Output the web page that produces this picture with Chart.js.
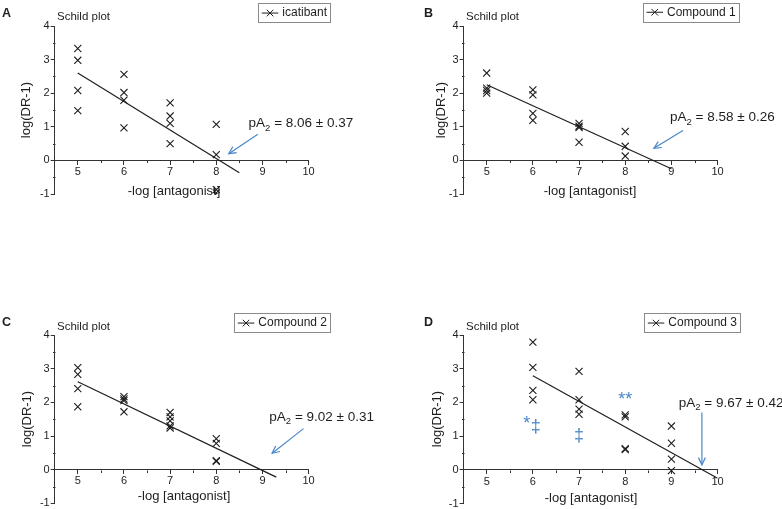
<!DOCTYPE html>
<html><head><meta charset="utf-8">
<script src="https://cdn.jsdelivr.net/npm/chart.js@4.4.1/dist/chart.umd.min.js"></script>
<style>
html,body{margin:0;padding:0;background:#fff;}
body{width:782px;height:509px;position:relative;overflow:hidden;}
canvas{position:absolute;}
</style>
</head><body>
<canvas id="cA" width="391" height="250" style="left:0;top:0"></canvas>
<canvas id="cB" width="391" height="250" style="left:391px;top:0"></canvas>
<canvas id="cC" width="391" height="270" style="left:0;top:250px"></canvas>
<canvas id="cD" width="391" height="270" style="left:391px;top:250px"></canvas>
<script>
// ---------- DATA ----------
const xTicks = [5, 6, 7, 8, 9, 10];
const yTicks = [-1, 0, 1, 2, 3, 4];

const namesAll = ['icatibant', 'Compound 1', 'Compound 2', 'Compound 3'];
const pA2Text = ['8.06 \u00b1 0.37', '8.58 \u00b1 0.26', '9.02 \u00b1 0.31', '9.67 \u00b1 0.42'];

const xA = [5,5,5,5, 6,6,6,6, 7,7,7,7, 8,8,8,8];
const yA = [3.33,2.98,2.08,1.48, 2.56,2.02,1.79,0.97, 1.71,1.32,1.1,0.5, 1.07,0.17,-0.87,-0.97];
const fitAx = [5, 8.5];
const fitAy = [2.6, -0.37];

const xB = [5,5,5,5, 6,6,6,6, 7,7,7,7, 8,8,8];
const yB = [2.6,2.15,2.08,2.0, 2.1,1.95,1.4,1.19, 1.1,1.02,0.98,0.54, 0.86,0.42,0.13];
const fitBx = [5, 9];
const fitBy = [2.25, -0.25];

const xC = [5,5,5,5, 6,6,6,6, 7,7,7,7,7, 8,8,8,8];
const yC = [3.03,2.83,2.41,1.87, 2.17,2.1,2.05,1.72, 1.7,1.57,1.45,1.3,1.24, 0.92,0.78,0.27,0.25];
const fitCx = [5, 9.3];
const fitCy = [2.61, -0.22];

const xD = [6,6,6,6, 7,7,7,7, 8,8,8,8, 9,9,9,9];
const yD = [3.79,3.04,2.36,2.08, 2.92,2.08,1.8,1.65, 1.63,1.57,0.63,0.6, 1.3,0.79,0.32,-0.02];
const fitDx = [6, 10];
const fitDy = [2.79, -0.25];

// pA2 label anchor (data coords) and arrow start/tip (data coords)
const labelA = [8.70, 1.10]; const arrowA = [8.90, 0.78, 8.27, 0.20];
const labelB = [8.97, 1.28]; const arrowB = [9.25, 0.89, 8.62, 0.36];
const labelC = [9.15, 1.57]; const arrowC = [9.89, 1.22, 9.21, 0.49];
const labelD = [9.16, 1.98]; const arrowD = [9.66, 1.70, 9.66, 0.15];

// significance marks in panel D (data coords)
const markText = ['*', '\u2021', '\u2021', '**'];
const markX = [5.87, 6.06, 7.0, 8.0];
const markY = [1.49, 1.26, 0.99, 2.2];

// ---------- STYLE / LAYOUT ----------
const FONT = "'Liberation Sans', Arial, Helvetica, sans-serif";
const INK = '#1e1e1e';
const BLUE = '#4a86c8';

const panels = [
  {id:'cA', letter:'A', name:namesAll[0], xs:xA, ys:yA, fx:fitAx, fy:fitAy, pa:pA2Text[0], lab:labelA, arr:arrowA,
   area:{l:54.7, r:308.6, t:26, b:194}, canvasH:250, letterPos:[2,14], schild:[57,16.7], yTitle:[26,110], xTitle:[174,191.7], legend:[258.3,3.3]},
  {id:'cB', letter:'B', name:namesAll[1], xs:xB, ys:yB, fx:fitBx, fy:fitBy, pa:pA2Text[1], lab:labelB, arr:arrowB,
   area:{l:72.6, r:326.6, t:26, b:194}, canvasH:250, letterPos:[33,14], schild:[75,16.7], yTitle:[50,110], xTitle:[199,191.7], legend:[252,2.5]},
  {id:'cC', letter:'C', name:namesAll[2], xs:xC, ys:yC, fx:fitCx, fy:fitCy, pa:pA2Text[2], lab:labelC, arr:arrowC,
   area:{l:54.7, r:308.6, t:85, b:253.4}, canvasH:270, letterPos:[2,72.5], schild:[57,76.5], yTitle:[27,169], xTitle:[184,246.7], legend:[234.3,63.3]},
  {id:'cD', letter:'D', name:namesAll[3], xs:xD, ys:yD, fx:fitDx, fy:fitDy, pa:pA2Text[3], lab:labelD, arr:arrowD,
   area:{l:72.6, r:326.6, t:85, b:253.6}, canvasH:270, letterPos:[33,72.5], schild:[75,76.5], yTitle:[46,169], xTitle:[200,248], legend:[253.3,63.3],
   marks:true}
];

const isInt = v => Math.abs(v - Math.round(v)) < 1e-6;

function drawArrow(ctx, x1, y1, x2, y2) {
  ctx.save();
  ctx.strokeStyle = BLUE; ctx.lineWidth = 1.2;
  ctx.beginPath(); ctx.moveTo(x1, y1); ctx.lineTo(x2, y2); ctx.stroke();
  const ang = Math.atan2(y2 - y1, x2 - x1);
  const L = 8, a = 0.45;
  ctx.beginPath();
  ctx.moveTo(x2 - L * Math.cos(ang - a), y2 - L * Math.sin(ang - a));
  ctx.lineTo(x2, y2);
  ctx.lineTo(x2 - L * Math.cos(ang + a), y2 - L * Math.sin(ang + a));
  ctx.stroke();
  ctx.restore();
}

function makePlugin(p) {
  return {
    id: 'decor' + p.letter,
    afterDraw(chart) {
      const ctx = chart.ctx, xs = chart.scales.x, ys = chart.scales.y;
      const ca = chart.chartArea;
      ctx.save();
      // minor ticks
      ctx.strokeStyle = '#333'; ctx.lineWidth = 1;
      const y0 = Math.round(ys.getPixelForValue(0)) + 0.5;
      for (let v = 5.5; v < 10; v += 1) {
        const px = Math.round(xs.getPixelForValue(v)) + 0.5;
        ctx.beginPath(); ctx.moveTo(px, y0); ctx.lineTo(px, y0 + 2.5); ctx.stroke();
      }
      const xl = Math.round(ca.left) + 0.5;
      for (let v = -0.5; v < 4; v += 1) {
        const py = Math.round(ys.getPixelForValue(v)) + 0.5;
        ctx.beginPath(); ctx.moveTo(xl, py); ctx.lineTo(xl - 2.5, py); ctx.stroke();
      }
      ctx.fillStyle = INK;
      // panel letter
      ctx.font = 'bold 12.5px ' + FONT; ctx.textBaseline = 'middle'; ctx.textAlign = 'left';
      ctx.fillText(p.letter, p.letterPos[0], p.letterPos[1]);
      // Schild plot
      ctx.font = '11.5px ' + FONT;
      ctx.fillText('Schild plot', p.schild[0], p.schild[1]);
      // axis titles
      ctx.font = '13px ' + FONT; ctx.textAlign = 'center';
      ctx.fillText('-log [antagonist]', p.xTitle[0], p.xTitle[1]);
      ctx.save();
      ctx.translate(p.yTitle[0], p.yTitle[1]); ctx.rotate(-Math.PI / 2);
      ctx.fillText('log(DR-1)', 0, 0);
      ctx.restore();
      // legend
      ctx.font = '12px ' + FONT; ctx.textAlign = 'left';
      const tw = ctx.measureText(p.name).width;
      const lx = p.legend[0], ly = p.legend[1], lh = 18.5;
      const lw = 3.5 + 16.5 + 4 + tw + 3.5;
      ctx.strokeStyle = '#8a8a8a'; ctx.lineWidth = 1;
      ctx.strokeRect(Math.round(lx) + 0.5, Math.round(ly) + 0.5, Math.round(lw), Math.round(lh));
      const sy = ly + lh / 2 + 0.5;
      ctx.strokeStyle = INK;
      ctx.beginPath(); ctx.moveTo(lx + 3.5, sy); ctx.lineTo(lx + 20, sy); ctx.stroke();
      const cx = lx + 11.75, r = 3.3;
      ctx.beginPath();
      ctx.moveTo(cx - r, sy - r); ctx.lineTo(cx + r, sy + r);
      ctx.moveTo(cx + r, sy - r); ctx.lineTo(cx - r, sy + r); ctx.stroke();
      ctx.fillStyle = INK;
      ctx.fillText(p.name, lx + 24, sy);
      // pA2 label
      let tx = xs.getPixelForValue(p.lab[0]);
      const ty = ys.getPixelForValue(p.lab[1]);
      ctx.font = '13.5px ' + FONT;
      ctx.fillText('pA', tx, ty); tx += ctx.measureText('pA').width;
      ctx.font = '9.5px ' + FONT;
      ctx.fillText('2', tx, ty + 4.5); tx += ctx.measureText('2').width;
      ctx.font = '13.5px ' + FONT;
      ctx.fillText(' = ' + p.pa, tx, ty);
      // arrow
      drawArrow(ctx, xs.getPixelForValue(p.arr[0]), ys.getPixelForValue(p.arr[1]),
                     xs.getPixelForValue(p.arr[2]), ys.getPixelForValue(p.arr[3]));
      // significance marks
      if (p.marks) {
        ctx.fillStyle = BLUE; ctx.textAlign = 'center'; ctx.textBaseline = 'middle';
        for (let i = 0; i < markText.length; i++) {
          const isStar = markText[i].indexOf('*') >= 0;
          ctx.font = (isStar ? '18px ' : '18px ') + FONT;
          ctx.fillText(markText[i], xs.getPixelForValue(markX[i]), ys.getPixelForValue(markY[i]) + (isStar ? 4 : 0));
        }
      }
      ctx.restore();
    }
  };
}

panels.forEach(p => {
  const pts = p.xs.map((x, i) => ({x: x, y: p.ys[i]}));
  const fit = p.fx.map((x, i) => ({x: x, y: p.fy[i]}));
  const W = 391;
  new Chart(document.getElementById(p.id), {
    type: 'scatter',
    data: {
      datasets: [
        {label: p.name, data: pts, pointStyle: 'crossRot', pointRadius: 5, pointBorderWidth: 1.1,
         borderColor: INK, backgroundColor: INK, showLine: false},
        {label: 'fit', data: fit, showLine: true, pointRadius: 0, borderColor: INK, borderWidth: 1.2, fill: false}
      ]
    },
    options: {
      responsive: false, animation: false, events: [],
      layout: {padding: {left: 0, top: p.area.t, right: W - p.area.r, bottom: p.canvasH - p.area.b}},
      plugins: {legend: {display: false}, tooltip: {enabled: false}, title: {display: false}},
      scales: {
        x: {
          type: 'linear', position: {y: 0}, min: 4.5, max: 10,
          afterBuildTicks: s => { s.ticks = []; for (let v = 4.5; v <= 10.0001; v += 0.5) s.ticks.push({value: v}); },
          ticks: {autoSkip: false, maxRotation: 0, padding: 1, color: INK, font: {size: 11, family: FONT},
                  callback: v => (isInt(v) && xTicks.includes(Math.round(v))) ? String(Math.round(v)) : ''},
          grid: {display: true, drawOnChartArea: false, drawTicks: true, tickLength: 4,
                 tickColor: c => (c.tick && isInt(c.tick.value) && c.tick.value > 4.6) ? '#333' : 'rgba(0,0,0,0)'},
          border: {display: true, color: '#333', width: 1}
        },
        y: {
          type: 'linear', position: 'left', min: -1, max: 4,
          afterBuildTicks: s => { s.ticks = []; for (let v = -1; v <= 4.0001; v += 0.5) s.ticks.push({value: v}); },
          afterFit: s => { s.width = p.area.l; },
          ticks: {autoSkip: false, padding: 1, color: INK, font: {size: 11, family: FONT},
                  callback: v => (isInt(v) && yTicks.includes(Math.round(v))) ? String(Math.round(v)) : ''},
          grid: {display: true, drawOnChartArea: false, drawTicks: true, tickLength: 4,
                 tickColor: c => (c.tick && isInt(c.tick.value)) ? '#333' : 'rgba(0,0,0,0)'},
          border: {display: true, color: '#333', width: 1}
        }
      }
    },
    plugins: [makePlugin(p)]
  });
});
</script>
</body></html>
